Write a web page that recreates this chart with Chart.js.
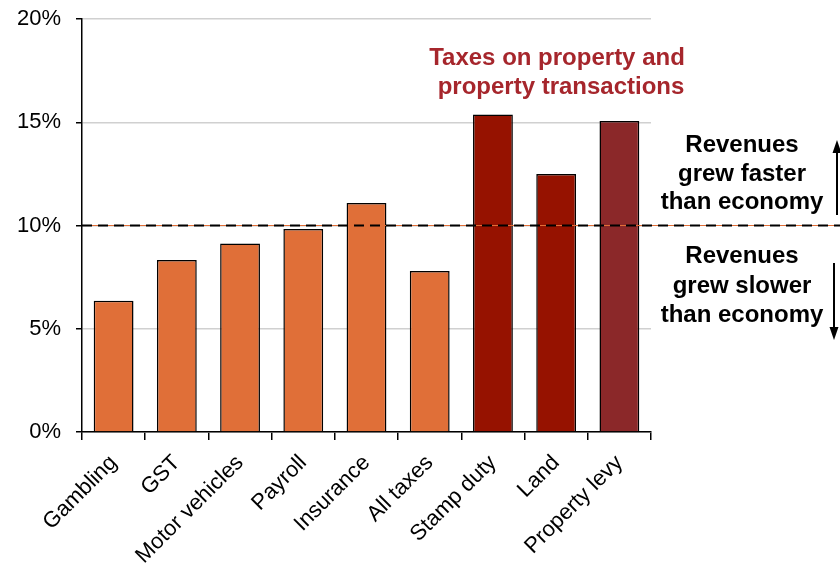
<!DOCTYPE html>
<html>
<head>
<meta charset="utf-8">
<script src="https://cdn.jsdelivr.net/npm/chart.js@4.4.0/dist/chart.umd.min.js"></script>
<style>
  html, body { margin: 0; padding: 0; background: #fff; }
  #wrap { width: 840px; height: 572px; position: relative; }
</style>
</head>
<body>
<div id="wrap"><canvas id="taxChart"></canvas></div>
<script>
// data
const categories = ['Gambling', 'GST', 'Motor vehicles', 'Payroll', 'Insurance', 'All taxes', 'Stamp duty', 'Land', 'Property levy'];
const growth = [6.35, 8.33, 9.13, 9.83, 11.09, 7.8, 15.38, 12.49, 15.06];
const barColors = ['#e06f38', '#e06f38', '#e06f38', '#e06f38', '#e06f38', '#e06f38', '#961200', '#961200', '#8b2829'];
const yTicks = [0, 5, 10, 15, 20];
const economyLine = 10;

const FONT = '"Liberation Sans", Arial, sans-serif';

// dashed line + notes
const notes = {
  id: 'notes',
  afterDatasetsDraw(chart) {
    const c = chart.ctx;
    const area = chart.chartArea;
    const y = chart.scales.y.getPixelForValue(economyLine);
    c.save();
    // thin orange line under dashes
    c.strokeStyle = '#e06f38';
    c.lineWidth = 1;
    c.beginPath();
    c.moveTo(area.left, y);
    c.lineTo(chart.width, y);
    c.stroke();
    c.strokeStyle = '#000';
    c.lineWidth = 2;
    c.setLineDash([10, 6]);
    c.beginPath();
    c.moveTo(area.left, y);
    c.lineTo(chart.width, y);
    c.stroke();
    c.setLineDash([]);

    c.textAlign = 'center';
    c.textBaseline = 'middle';
    c.font = 'bold 24px ' + FONT;
    c.fillStyle = '#a6262c';
    c.fillText('Taxes on property and', 557, 58);
    c.fillText('property transactions', 561, 87);

    c.fillStyle = '#000';
    c.fillText('Revenues', 742, 145);
    c.fillText('grew faster', 742, 174);
    c.fillText('than economy', 742, 202);
    c.fillText('Revenues', 742, 256);
    c.fillText('grew slower', 742, 286);
    c.fillText('than economy', 742, 315);

    // arrows
    function arrow(x, y1, y2) {
      const dir = y2 < y1 ? -1 : 1;
      c.strokeStyle = '#000';
      c.fillStyle = '#000';
      c.lineWidth = 2;
      c.beginPath();
      c.moveTo(x, y1);
      c.lineTo(x, y2 - dir * 8);
      c.stroke();
      c.beginPath();
      c.moveTo(x, y2);
      c.lineTo(x - 4.5, y2 - dir * 13);
      c.lineTo(x + 4.5, y2 - dir * 13);
      c.closePath();
      c.fill();
    }
    arrow(837, 215, 140);
    arrow(834, 263, 340);
    c.restore();
  }
};

const ctx = document.getElementById('taxChart');
const taxChart = new Chart(ctx, {
  type: 'bar',
  data: {
    labels: categories,
    datasets: [{
      data: growth,
      backgroundColor: barColors,
      borderColor: '#000',
      borderWidth: 1.5,
      barPercentage: 0.63,
      categoryPercentage: 1
    }]
  },
  options: {
    responsive: true,
    maintainAspectRatio: false,
    animation: false,
    layout: { padding: { top: 19, right: 189, left: 0, bottom: 0 } },
    plugins: {
      legend: { display: false },
      tooltip: { enabled: false }
    },
    scales: {
      x: {
        grid: { offset: true, drawOnChartArea: false, color: '#000', tickLength: 8, lineWidth: 1.5 },
        border: { color: '#000', width: 1.5 },
        ticks: {
          color: '#000',
          minRotation: 45,
          maxRotation: 45,
          padding: 10,
          font: { family: FONT, size: 22 }
        },
        afterFit(scale) { scale.height = 140; }
      },
      y: {
        min: 0,
        max: 20,
        afterBuildTicks(scale) { scale.ticks = yTicks.map(v => ({ value: v })); },
        grid: { color: '#d0d0d0', tickColor: '#000', tickLength: 6, lineWidth: 1.5 },
        border: { color: '#000', width: 1.5 },
        ticks: {
          color: '#000',
          padding: 15,
          font: { family: FONT, size: 22 },
          callback: v => v + '%'
        },
        afterFit(scale) {
          scale.width = 82;
          scale.paddingTop = 0;
          scale.paddingBottom = 0;
        }
      }
    }
  },
  plugins: [notes]
});
</script>
</body>
</html>
